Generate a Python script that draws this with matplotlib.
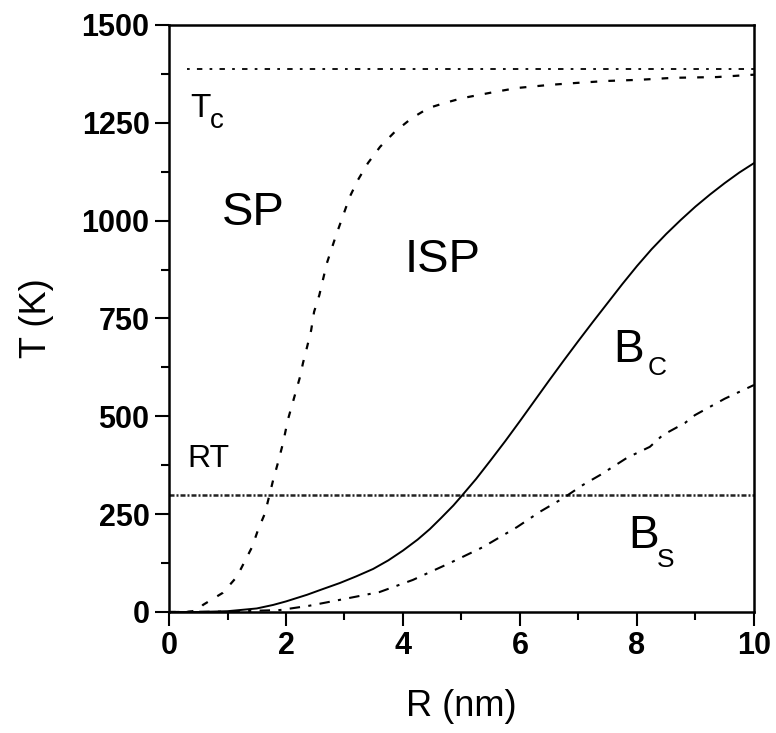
import matplotlib
matplotlib.use("Agg")
import matplotlib.pyplot as plt
from matplotlib.ticker import MultipleLocator

plt.rcParams["font.family"] = ["Liberation Sans", "DejaVu Sans"]

# Critical temperature and room temperature (K)
T_CURIE = 1388
T_ROOM = 300

# SP / ISP boundary (dashed)
r_sp = [0.0, 0.3, 0.5, 0.58, 0.92, 1.16, 1.42, 1.52, 1.64, 1.78, 1.86, 1.95,
        2.03, 2.24, 2.29, 2.36, 2.43, 2.48, 2.57, 2.63, 2.70, 2.85, 3.09, 3.23,
        3.40, 3.61, 3.86, 4.15, 4.44, 4.72, 5.01, 5.57, 5.95, 6.51, 6.97, 7.49,
        8.05, 8.62, 9.37, 9.88, 10.0]
t_sp = [0, 0, 4, 18, 49, 90, 166, 209, 252, 337, 380, 432,
        490, 601, 636, 677, 720, 767, 810, 848, 892, 960, 1061, 1104,
        1147, 1189, 1227, 1262, 1288, 1301, 1313, 1329, 1339, 1347, 1352, 1357,
        1360, 1365, 1367, 1372, 1373]

# B_C curve (solid)
r_bc = [0.0, 0.5, 1.0, 1.5, 1.78, 2.0, 2.36, 2.6, 2.92, 3.2, 3.49, 3.75,
        4.0, 4.25, 4.46, 4.65, 4.86, 5.0, 5.25, 5.5, 5.75, 6.0, 6.25, 6.5,
        6.75, 7.0, 7.25, 7.5, 7.75, 8.0, 8.25, 8.5, 8.75, 9.0, 9.25, 9.5,
        9.75, 10.0]
t_bc = [0, 0, 2, 9, 18, 27, 44, 57, 74, 91, 110, 132,
        157, 185, 212, 240, 272, 296, 340, 388, 437, 488, 540, 592,
        643, 693, 742, 790, 838, 884, 927, 966, 1002, 1036, 1067, 1096,
        1123, 1147]

# B_S curve (dash-dot)
r_bs = [0.0, 1.0, 1.9, 2.4, 2.92, 3.6, 4.17, 4.8, 5.37, 5.95, 6.34, 6.74,
        7.08, 7.37, 7.83, 8.22, 8.44, 8.82, 8.99, 9.5, 10.0]
t_bs = [0, 1, 5, 16, 31, 51, 82, 125, 166, 217, 256, 291,
        325, 350, 394, 422, 452, 483, 503, 545, 580]

fig = plt.figure(figsize=(7.76, 7.33), dpi=100)
ax = fig.add_axes([0.2178, 0.1651, 0.7538, 0.8008])

ax.axhline(T_CURIE, xmin=0.03, color="black", lw=1.3, ls=(0, (1.5, 4, 3, 4)))
ax.axhline(T_ROOM, color="#222222", lw=1.8, ls=(0, (2, 0.8, 0.8, 0.8)))
ax.plot(r_sp, t_sp, color="black", lw=1.6, ls=(0, (3, 5)))
ax.plot(r_bc, t_bc, color="black", lw=1.4)
ax.plot(r_bs, t_bs, color="black", lw=1.5, ls=(0, (5, 4, 1.5, 4)))

ax.set_xlim(0, 10)
ax.set_ylim(0, 1500)
ax.xaxis.set_major_locator(MultipleLocator(2))
ax.xaxis.set_minor_locator(MultipleLocator(1))
ax.yaxis.set_major_locator(MultipleLocator(250))
ax.yaxis.set_minor_locator(MultipleLocator(125))
ax.tick_params(which="major", direction="out", length=10, width=1.5,
               labelsize=22, pad=4)
ax.tick_params(which="minor", direction="out", length=6, width=1.5)
for lbl in ax.get_xticklabels() + ax.get_yticklabels():
    lbl.set_fontweight("bold")
for sp in ax.spines.values():
    sp.set_linewidth(1.8)

ax.set_xlabel("R (nm)", fontsize=26, labelpad=20)
ax.set_ylabel("T (K)", fontsize=26, labelpad=20)

# region and curve labels
ax.text(0.36, 1265, "T", fontsize=24)
ax.text(0.70, 1237, "c", fontsize=20)
ax.text(0.31, 371, "RT", fontsize=23)
ax.text(0.91, 989, "SP", fontsize=34)
ax.text(4.03, 869, "ISP", fontsize=34)
ax.text(7.59, 639, "B", fontsize=33)
ax.text(8.19, 606, "C", fontsize=19)
ax.text(7.85, 164, "B", fontsize=33)
ax.text(8.34, 115, "S", fontsize=19)

fig.savefig("out.png", dpi=100)
